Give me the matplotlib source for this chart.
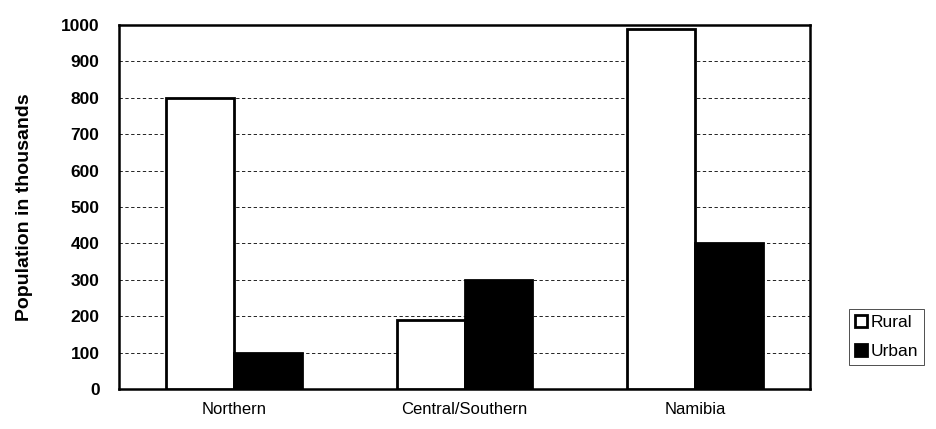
import matplotlib
matplotlib.use("Agg")
import matplotlib.pyplot as plt
import numpy as np

categories = ["Northern", "Central/Southern", "Namibia"]
rural = [800, 190, 990]
urban = [100, 300, 400]
yticks = [0, 100, 200, 300, 400, 500, 600, 700, 800, 900, 1000]

plt.rcParams['font.family'] = ['Liberation Sans', 'DejaVu Sans']

fig = plt.figure(figsize=(9.37, 4.29), dpi=100)
ax = fig.add_axes([0.127, 0.0932, 0.7375, 0.8485])

x = np.arange(len(categories))
w = 0.295
ax.bar(x - w/2, rural, w, color='white', edgecolor='black', linewidth=2, label='Rural', zorder=3)
ax.bar(x + w/2, urban, w, color='black', edgecolor='black', linewidth=2, label='Urban', zorder=3)

ax.set_xlim(-0.5, 2.5)
ax.set_ylim(0, 1000)
ax.set_yticks(yticks)
ax.set_yticklabels([str(t) for t in yticks], fontsize=12.5, fontweight='bold')
ax.set_xticks(x)
ax.set_xticklabels(categories, fontsize=12)
ax.tick_params(axis='y', length=0, pad=14)
ax.tick_params(axis='x', length=0, pad=9)
ax.yaxis.grid(True, linestyle=(0, (4, 3)), color='black', linewidth=0.6, zorder=0)
for s in ax.spines.values():
    s.set_linewidth(1.8)
    s.set_color('black')

ax.set_ylabel("Population in thousands", fontsize=14, fontweight='bold', labelpad=20)

leg = fig.legend(loc='upper left', bbox_to_anchor=(0.906, 0.28), fontsize=12.5,
                 frameon=True, fancybox=False, handlelength=0.7, handleheight=0.7,
                 handletextpad=0.2, borderpad=0.35, labelspacing=0.8, borderaxespad=0)
leg.get_frame().set_edgecolor('black')
leg.get_frame().set_linewidth(0.6)

fig.savefig("out.png", dpi=100)
